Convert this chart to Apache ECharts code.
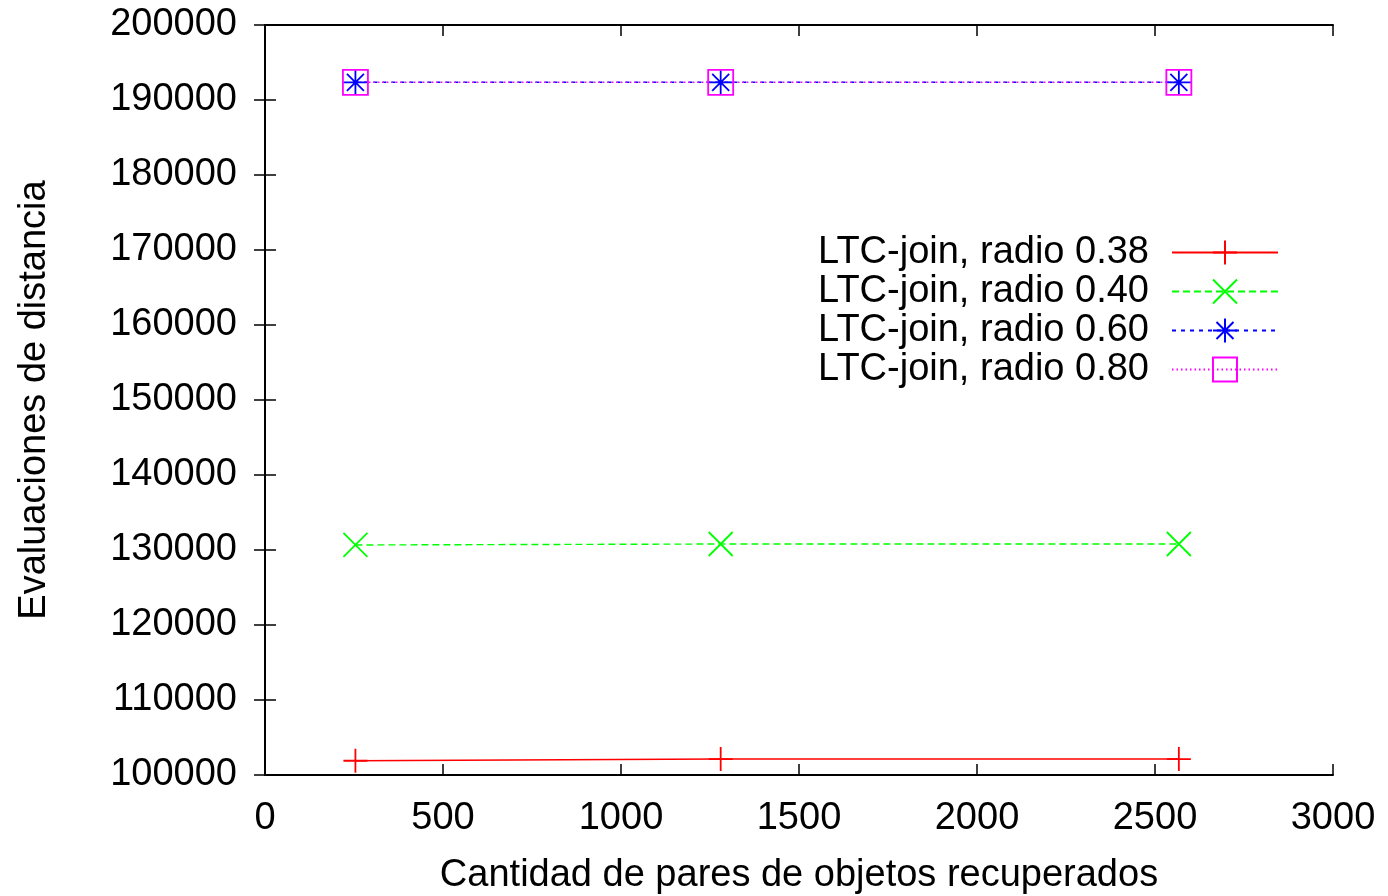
<!DOCTYPE html>
<html>
<head>
<meta charset="utf-8">
<script src="https://cdn.jsdelivr.net/npm/echarts@6/dist/echarts.min.js"></script>
<style>html,body{margin:0;padding:0;background:#fff;overflow:hidden}#c{width:1388px;height:896px}</style>
</head>
<body>
<div id="c"></div>
<script>
const xValues = [254, 1280, 2567];
const s038 = [101900, 102130, 102130];
const s040 = [130670, 130800, 130800];
const s060 = [192360, 192360, 192360];
const s080 = [192360, 192360, 192360];
const seriesNames = ['LTC-join, radio 0.38', 'LTC-join, radio 0.40', 'LTC-join, radio 0.60', 'LTC-join, radio 0.80'];
const xTicks = [0, 500, 1000, 1500, 2000, 2500, 3000];
const yTicks = [100000, 110000, 120000, 130000, 140000, 150000, 160000, 170000, 180000, 190000, 200000];

const FONT = 'Liberation Sans, Arial, Helvetica, sans-serif';
const FS = 38;
const plus = 'path://M0,12 L24,12 M12,0 L12,24';
const cross = 'path://M0,0 L24,24 M24,0 L0,24';
const star = 'path://M0,12 L24,12 M12,0 L12,24 M3.5,3.5 L20.5,20.5 M20.5,3.5 L3.5,20.5';
const square = 'path://M0,0 L24,0 L24,24 L0,24 Z';

function pts(ys) { return xValues.map((x, i) => [x, ys[i]]); }

function mk(name, data, color, symbol, dash, size, fill) {
  return {
    name: name, type: 'line', data: pts(data),
    symbol: symbol, symbolSize: size, showSymbol: true,
    lineStyle: { color: color, width: 1.4, type: dash },
    itemStyle: { color: fill, borderColor: color, borderWidth: 1.8 },
    emphasis: { disabled: true }, animation: false, z: 3
  };
}

const chart = echarts.init(document.getElementById('c'), null, { renderer: 'canvas' });
const axisCommon = {
  type: 'value',
  axisLine: { show: true, lineStyle: { color: '#000', width: 2 } },
  axisTick: { show: true, inside: true, length: 11, lineStyle: { color: '#000', width: 1.5 } },
  splitLine: { show: false }
};
const plain = function (v) { return String(v); };
chart.setOption({
  backgroundColor: '#fff',
  animation: false,
  grid: { left: 265, right: 55, top: 25, bottom: 121, containLabel: false, outerBoundsMode: 'none' },
  xAxis: [
    Object.assign({}, axisCommon, {
      min: xTicks[0], max: xTicks[xTicks.length - 1], interval: 500, position: 'bottom',
      name: 'Cantidad de pares de objetos recuperados', nameLocation: 'middle', nameGap: 82,
      nameTextStyle: { fontFamily: FONT, fontSize: FS, color: '#000' },
      axisLabel: { fontFamily: FONT, fontSize: FS, color: '#000', margin: 25, formatter: plain }
    }),
    Object.assign({}, axisCommon, {
      min: xTicks[0], max: xTicks[xTicks.length - 1], interval: 500, position: 'top',
      axisLabel: { show: false }
    })
  ],
  yAxis: [
    Object.assign({}, axisCommon, {
      min: yTicks[0], max: yTicks[yTicks.length - 1], interval: 10000, position: 'left',
      name: 'Evaluaciones de distancia', nameLocation: 'middle', nameGap: 211,
      nameTextStyle: { fontFamily: FONT, fontSize: FS, color: '#000' },
      axisLabel: { fontFamily: FONT, fontSize: FS, color: '#000', margin: 28, formatter: plain }
    }),
    Object.assign({}, axisCommon, {
      min: yTicks[0], max: yTicks[yTicks.length - 1], interval: 10000, position: 'right',
      axisLabel: { show: false }
    })
  ],
  legend: {
    show: true, orient: 'vertical', right: 104, top: 228, align: 'right',
    itemWidth: 106, itemHeight: 30, itemGap: 0,
    textStyle: { fontFamily: FONT, fontSize: FS, lineHeight: 39, color: '#000', padding: [0, 18, 0, 0] },
    selectedMode: false,
    data: seriesNames
  },
  series: [
    mk(seriesNames[0], s038, '#ff0000', plus, 'solid', 24, '#ff0000'),
    mk(seriesNames[1], s040, '#00ff00', cross, [7, 4], 24, '#00ff00'),
    mk(seriesNames[2], s060, '#0000ff', star, [4, 5], 24, '#0000ff'),
    mk(seriesNames[3], s080, '#ff00ff', square, [1.5, 3], 25, 'rgba(0,0,0,0)')
  ]
});
</script>
</body>
</html>
